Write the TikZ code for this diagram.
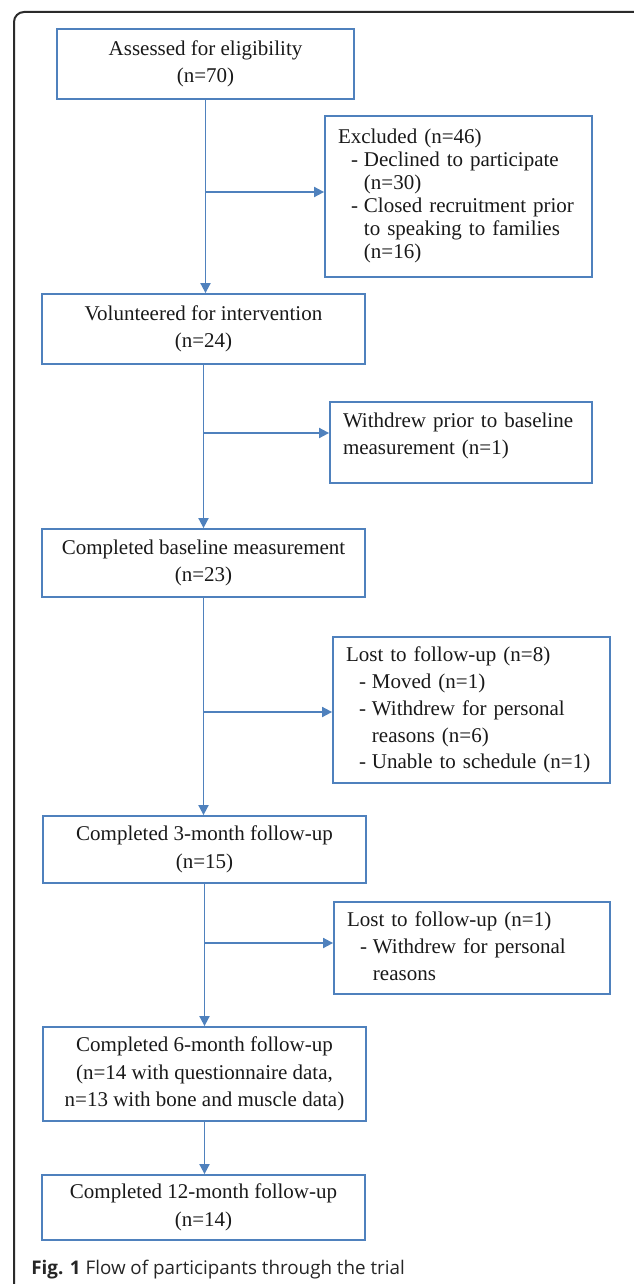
\documentclass[tikz,border=0pt]{standalone}
\usepackage{fontspec}
\setmainfont{Liberation Serif}
\setsansfont{Open Sans}
\usepackage{xcolor}
\usetikzlibrary{arrows.meta}
\definecolor{flowblue}{HTML}{4F81BD}
\definecolor{framegray}{HTML}{2B2B2B}
\newcommand{\hd}[1]{\multicolumn{2}{@{}l@{}}{#1}}

\begin{document}
\begin{tikzpicture}[x=0.5pt, y=-0.5pt, every node/.style={inner sep=0pt, text=black!90},%
        mainbox/.style={draw=flowblue, line width=0.9pt, align=center, font=\fontsize{10.5}{13.8}\selectfont, minimum width=161.5pt, minimum height=35pt},
        sidebox/.style={draw=flowblue, line width=0.9pt, align=left, font=\fontsize{10.5}{13.4}\selectfont, inner xsep=6.5pt},
        flowarrow/.style={draw=flowblue, line width=0.9pt, -{Triangle[length=5pt,width=5pt]}}]
        \useasboundingbox (0,0) rectangle (633,1284);
        \draw[framegray, line width=1pt, rounded corners=5pt] (14,1300) -- (14,12) -- (650,12);

        % main column
        \node[mainbox, minimum width=148.5pt] (assess) at (205.5,64) {Assessed for eligibility\\(n=70)};
        \node[mainbox] (volunt) at (203.5,329) {Volunteered for intervention\\(n=24)};
        \node[mainbox, minimum height=34pt] (basel) at (203.5,563) {Completed baseline measurement\\(n=23)};
        \node[mainbox, minimum height=33.5pt] (threem) at (204.5,849.5) {Completed 3-month follow-up\\(n=15)};
        \node[mainbox, minimum height=47pt] (sixm) at (204.5,1074) {Completed 6-month follow-up\\(n=14 with questionnaire data,\\n=13 with bone and muscle data)};
        \node[mainbox, minimum height=32.5pt] (twelvem) at (203.5,1207.5) {Completed 12-month follow-up\\(n=14)};

        % side boxes
        \node[sidebox, text width=120.5pt, minimum height=80.5pt] (excl) at (458.5,196.5) {\renewcommand\arraystretch{0.86}%
            \begin{tabular}{@{\hspace{6.5pt}}l@{\hspace{3pt}}l@{}}
            \hd{Excluded (n=46)}\\
            - & Declined to participate\\
              & (n=30)\\
            - & Closed recruitment prior\\
              & to speaking to families\\
              & (n=16)
            \end{tabular}};
        \node[sidebox, text width=118pt, minimum height=40.5pt] (withdr) at (461,442.5) {%
            \begin{tabular}{@{}l@{}}
            Withdrew prior to baseline\\
            measurement (n=1)\\[7pt]
            \end{tabular}};
        \node[sidebox, text width=125.5pt, minimum height=73pt] (lostA) at (471.5,710) {%
            \begin{tabular}{@{\hspace{6.5pt}}l@{\hspace{3pt}}l@{}}
            \hd{Lost to follow-up (n=8)}\\
            - & Moved (n=1)\\
            - & Withdrew for personal\\
              & reasons (n=6)\\
            - & Unable to schedule (n=1)
            \end{tabular}};
        \node[sidebox, text width=125pt, minimum height=46pt] (lostB) at (472,948) {%
            \begin{tabular}{@{\hspace{6.5pt}}l@{\hspace{3pt}}l@{}}
            \hd{Lost to follow-up (n=1)}\\
            - & Withdrew for personal\\
              & reasons
            \end{tabular}};

        \node[anchor=base west, font=\sffamily\fontsize{9.4}{11}\selectfont, text=black!85] (cap) at (31,1274) {\textbf{Fig. 1} Flow of participants through the trial};

        % junctions of the side branches
        \coordinate (j1) at (205,192);
        \coordinate (j2) at (204,433);
        \coordinate (j3) at (204,712);
        \coordinate (j4) at (204,943);

        \draw[flowarrow] (assess.south) -- (assess.south |- volunt.north);
        \draw[flowarrow] (j1) -- (j1 -| excl.west);
        \draw[flowarrow] (volunt.south) -- (volunt.south |- basel.north);
        \draw[flowarrow] (j2) -- (j2 -| withdr.west);
        \draw[flowarrow] (basel.south) -- (basel.south |- threem.north);
        \draw[flowarrow] (j3) -- (j3 -| lostA.west);
        \draw[flowarrow] (threem.south) -- (threem.south |- sixm.north);
        \draw[flowarrow] (j4) -- (j4 -| lostB.west);
        \draw[flowarrow] (sixm.south) -- (sixm.south |- twelvem.north);
\end{tikzpicture}
\end{document}
